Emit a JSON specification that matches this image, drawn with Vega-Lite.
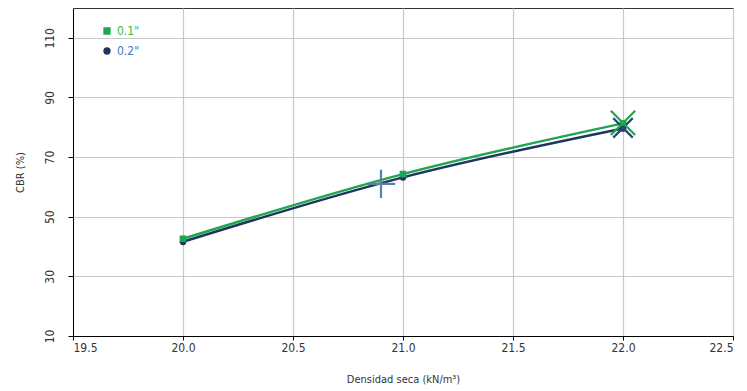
{
  "$schema": "https://vega.github.io/schema/vega-lite/v6.json",
  "width": 660,
  "height": 328,
  "autosize": "none",
  "padding": {"left": 73, "top": 8, "right": 14, "bottom": 55},
  "background": "white",
  "config": {
    "view": {"stroke": "#333", "strokeWidth": 1},
    "font": "DejaVu Sans Condensed, Liberation Sans Narrow, Liberation Sans, sans-serif",
    "axis": {"labelColor": "#333", "titleColor": "#333", "titleFontWeight": "normal", "labelFontSize": 12, "titleFontSize": 11, "gridColor": "#c8c8c8", "gridWidth": 1.2, "domainColor": "#000", "tickColor": "#000"}
  },
  "datasets": {
    "series": [
      {"densidad": 20.0, "cbr": 41.6, "serie": "0.2\""},
      {"densidad": 21.0, "cbr": 63.2, "serie": "0.2\""},
      {"densidad": 22.0, "cbr": 79.6, "serie": "0.2\""},
      {"densidad": 20.0, "cbr": 42.6, "serie": "0.1\""},
      {"densidad": 21.0, "cbr": 64.3, "serie": "0.1\""},
      {"densidad": 22.0, "cbr": 81.3, "serie": "0.1\""}
    ],
    "marcas": [
      {"densidad": 20.9, "cbr": 61.0, "tipo": "mas"},
      {"densidad": 22.0, "cbr": 79.8, "tipo": "x2"},
      {"densidad": 22.0, "cbr": 81.5, "tipo": "x1"}
    ]
  },
  "resolve": {"scale": {"shape": "independent", "color": "independent", "size": "independent"}, "legend": {"shape": "independent", "color": "independent"}},
  "layer": [
    {
      "data": {"name": "series"},
      "layer": [
        {
          "mark": {"type": "line", "interpolate": "monotone", "strokeWidth": 2.5},
          "encoding": {
            "x": {"field": "densidad", "type": "quantitative", "scale": {"domain": [19.5, 22.5], "nice": false, "zero": false}, "axis": {"values": [19.5, 20, 20.5, 21, 21.5, 22, 22.5], "format": ".1f", "title": "Densidad seca (kN/m³)", "tickSize": 4, "labelPadding": 2, "titlePadding": 20}},
            "y": {"field": "cbr", "type": "quantitative", "scale": {"domain": [10, 120], "nice": false}, "axis": {"values": [10, 30, 50, 70, 90, 110], "title": "CBR (%)", "labelAngle": -90, "labelAlign": "center", "labelBaseline": "bottom", "tickSize": 5, "labelPadding": 12, "titlePadding": 18}},
            "color": {"field": "serie", "type": "nominal"},
            "order": {"field": "serie", "sort": "descending"},
            "detail": {"field": "serie"}
          }
        },
        {
          "mark": {"type": "point", "filled": true, "opacity": 1},
          "encoding": {
            "x": {"field": "densidad", "type": "quantitative"},
            "y": {"field": "cbr", "type": "quantitative"},
            "color": {"field": "serie", "type": "nominal"},
            "shape": {"field": "serie", "type": "nominal", "scale": {"domain": ["0.1\"", "0.2\""], "range": ["square", "circle"]}},
            "size": {"value": 45}
          }
        }
      ],
      "encoding": {
        "color": {"field": "serie", "type": "nominal", "scale": {"domain": ["0.1\"", "0.2\""], "range": ["#1fa650", "#1f3560"]},
          "legend": {"title": null, "orient": "none", "legendX": 28, "legendY": 17, "symbolSize": 34, "labelFontSize": 12, "rowPadding": 8,
            "encode": {"labels": {"update": {"fill": {"signal": "datum.label == '0.1\"' ? '#3cb44a' : '#3f7ac0'"}}}}}},
        "shape": {"field": "serie", "type": "nominal",
          "legend": {"title": null, "orient": "none", "legendX": 28, "legendY": 17, "symbolSize": 34, "labelFontSize": 12, "rowPadding": 8,
            "encode": {"labels": {"update": {"fill": {"signal": "datum.label == '0.1\"' ? '#3cb44a' : '#3f7ac0'"}}}}}}
      }
    },
    {
      "data": {"name": "marcas"},
      "mark": {"type": "point", "filled": false, "strokeWidth": 2.2, "opacity": 1},
      "encoding": {
        "x": {"field": "densidad", "type": "quantitative"},
        "y": {"field": "cbr", "type": "quantitative"},
        "shape": {"field": "tipo", "type": "nominal", "scale": {"domain": ["mas", "x1", "x2"], "range": ["M-1,0H1M0,-1V1", "M-1,-1L1,1M-1,1L1,-1", "M-1,-1L1,1M-1,1L1,-1"]}, "legend": null},
        "color": {"field": "tipo", "type": "nominal", "scale": {"domain": ["mas", "x1", "x2"], "range": ["#5a7fa8", "#1fa650", "#2a4a70"]}, "legend": null},
        "size": {"field": "tipo", "type": "ordinal", "scale": {"domain": ["mas", "x1", "x2"], "range": [800, 380, 380]}, "legend": null}
      }
    }
  ]
}
